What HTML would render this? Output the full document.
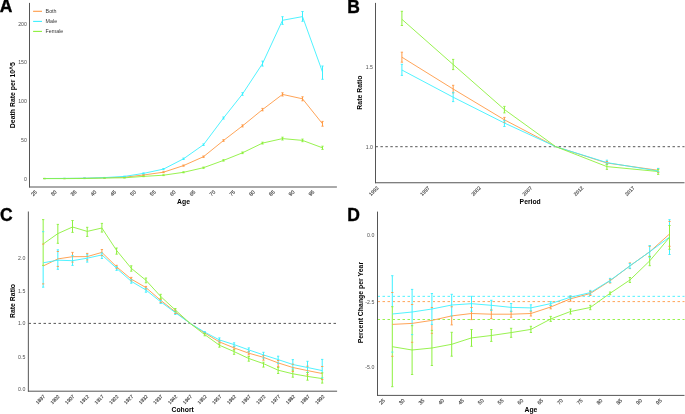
<!DOCTYPE html><html><head><meta charset="utf-8"><style>html,body{margin:0;padding:0;background:#fff;overflow:hidden}svg{display:block;will-change:transform}text{font-family:"Liberation Sans", sans-serif}</style></head><body>
<svg width="685" height="414" viewBox="0 0 685 414">
<rect width="685" height="414" fill="#fff"/>
<text x="-0.2" y="12.4" font-size="17.5" font-weight="bold" fill="#000" stroke="#000" stroke-width="0.35">A</text>
<line x1="33.1" y1="11.3" x2="42" y2="11.3" stroke="#FF9A45" stroke-width="1.1"/>
<text x="45.6" y="13.27" font-size="5.3" fill="#333">Both</text>
<line x1="33.1" y1="21.4" x2="42" y2="21.4" stroke="#3CF0FF" stroke-width="1.1"/>
<text x="45.6" y="23.37" font-size="5.3" fill="#333">Male</text>
<line x1="33.1" y1="31.4" x2="42" y2="31.4" stroke="#8CF03C" stroke-width="1.1"/>
<text x="45.6" y="33.37" font-size="5.3" fill="#333">Female</text>
<g><rect x="44" y="178.4" width="1" height="0.2" fill="#ff9a45"/><rect x="64" y="178.4" width="1" height="0.2" fill="#ff9a45"/><rect x="84" y="178.2" width="1" height="0.2" fill="#ff9a45"/><rect x="104" y="177.65" width="1" height="0.3" fill="#ff9a45"/><rect x="124" y="177" width="1" height="0.4" fill="#ff9a45"/><rect x="143" y="174.6" width="1" height="0.8" fill="#ff9a45"/><rect x="163" y="171.7" width="1" height="1" fill="#ff9a45"/><rect x="183" y="165" width="1" height="1.2" fill="#ff9a45"/><rect x="203" y="156" width="1" height="1.4" fill="#ff9a45"/><rect x="223" y="139.7" width="1" height="1.6" fill="#ff9a45"/><rect x="242" y="124.9" width="1" height="2" fill="#ff9a45"/><rect x="262" y="108.4" width="1" height="2.4" fill="#ff9a45"/><rect x="282" y="92.8" width="1" height="3.2" fill="#ff9a45"/><rect x="302" y="96.8" width="1" height="4" fill="#ff9a45"/><rect x="322" y="121.4" width="1" height="4.8" fill="#ff9a45"/></g>
<g><rect x="44" y="178.4" width="1" height="0.2" fill="#3cf0ff"/><rect x="64" y="178.3" width="1" height="0.2" fill="#3cf0ff"/><rect x="84" y="178.1" width="1" height="0.2" fill="#3cf0ff"/><rect x="104" y="177.45" width="1" height="0.3" fill="#3cf0ff"/><rect x="124" y="176.2" width="1" height="0.4" fill="#3cf0ff"/><rect x="143" y="172.9" width="1" height="1" fill="#3cf0ff"/><rect x="163" y="168.5" width="1" height="1.2" fill="#3cf0ff"/><rect x="183" y="158.1" width="1" height="1.4" fill="#3cf0ff"/><rect x="203" y="143.9" width="1" height="1.6" fill="#3cf0ff"/><rect x="223" y="117" width="1" height="2" fill="#3cf0ff"/><rect x="242" y="92.7" width="1" height="2.6" fill="#3cf0ff"/><rect x="262" y="61.1" width="1" height="5" fill="#3cf0ff"/><rect x="282" y="16.7" width="1" height="7.7" fill="#3cf0ff"/><rect x="302" y="11.5" width="1" height="9.8" fill="#3cf0ff"/><rect x="322" y="66" width="1" height="13.3" fill="#3cf0ff"/></g>
<g><rect x="44" y="178.5" width="1" height="0.2" fill="#8cf03c"/><rect x="64" y="178.5" width="1" height="0.2" fill="#8cf03c"/><rect x="84" y="178.4" width="1" height="0.2" fill="#8cf03c"/><rect x="104" y="177.85" width="1" height="0.3" fill="#8cf03c"/><rect x="124" y="177.6" width="1" height="0.4" fill="#8cf03c"/><rect x="143" y="176.1" width="1" height="0.6" fill="#8cf03c"/><rect x="163" y="174.8" width="1" height="0.8" fill="#8cf03c"/><rect x="183" y="171.8" width="1" height="1" fill="#8cf03c"/><rect x="203" y="167.1" width="1" height="1.2" fill="#8cf03c"/><rect x="223" y="159.7" width="1" height="1.4" fill="#8cf03c"/><rect x="242" y="152" width="1" height="1.6" fill="#8cf03c"/><rect x="262" y="142.2" width="1" height="1.8" fill="#8cf03c"/><rect x="282" y="137.2" width="1" height="2.8" fill="#8cf03c"/><rect x="302" y="139.1" width="1" height="2.6" fill="#8cf03c"/><rect x="322" y="146.2" width="1" height="3.2" fill="#8cf03c"/></g>
<polyline points="44.5,178.5 64.5,178.5 84.5,178.3 104.5,177.8 124.5,177.2 143.5,175 163.5,172.2 183.5,165.6 203.5,156.7 223.5,140.5 242.5,125.9 262.5,109.6 282.5,94.4 302.5,98.8 322.5,123.8" fill="none" stroke="#FF9A45" stroke-width="0.9" stroke-linejoin="round"/>
<polyline points="44.5,178.5 64.5,178.4 84.5,178.2 104.5,177.6 124.5,176.4 143.5,173.4 163.5,169.1 183.5,158.8 203.5,144.7 223.5,118 242.5,94 262.5,63.6 282.5,20.3 302.5,16.6 322.5,72" fill="none" stroke="#3CF0FF" stroke-width="0.9" stroke-linejoin="round"/>
<polyline points="44.5,178.6 64.5,178.6 84.5,178.5 104.5,178 124.5,177.8 143.5,176.4 163.5,175.2 183.5,172.3 203.5,167.7 223.5,160.4 242.5,152.8 262.5,143.1 282.5,138.6 302.5,140.4 322.5,147.8" fill="none" stroke="#8CF03C" stroke-width="0.9" stroke-linejoin="round"/>
<path d="M43.35 178.4H45.65M43.35 178.6H45.65M63.35 178.4H65.65M63.35 178.6H65.65M83.35 178.2H85.65M83.35 178.4H85.65M103.35 177.65H105.65M103.35 177.95H105.65M123.35 177H125.65M123.35 177.4H125.65M142.35 174.6H144.65M142.35 175.4H144.65M162.35 171.7H164.65M162.35 172.7H164.65M182.35 165H184.65M182.35 166.2H184.65M202.35 156H204.65M202.35 157.4H204.65M222.35 139.7H224.65M222.35 141.3H224.65M241.35 124.9H243.65M241.35 126.9H243.65M261.35 108.4H263.65M261.35 110.8H263.65M281.35 92.8H283.65M281.35 96H283.65M301.35 96.8H303.65M301.35 100.8H303.65M321.35 121.4H323.65M321.35 126.2H323.65" fill="none" stroke="#FF9A45" stroke-width="0.9"/>
<path d="M43.35 178.4H45.65M43.35 178.6H45.65M63.35 178.3H65.65M63.35 178.5H65.65M83.35 178.1H85.65M83.35 178.3H85.65M103.35 177.45H105.65M103.35 177.75H105.65M123.35 176.2H125.65M123.35 176.6H125.65M142.35 172.9H144.65M142.35 173.9H144.65M162.35 168.5H164.65M162.35 169.7H164.65M182.35 158.1H184.65M182.35 159.5H184.65M202.35 143.9H204.65M202.35 145.5H204.65M222.35 117H224.65M222.35 119H224.65M241.35 92.7H243.65M241.35 95.3H243.65M261.35 61.1H263.65M261.35 66.1H263.65M281.35 16.7H283.65M281.35 24.4H283.65M301.35 11.5H303.65M301.35 21.3H303.65M321.35 66H323.65M321.35 79.3H323.65" fill="none" stroke="#3CF0FF" stroke-width="0.9"/>
<path d="M43.35 178.5H45.65M43.35 178.7H45.65M63.35 178.5H65.65M63.35 178.7H65.65M83.35 178.4H85.65M83.35 178.6H85.65M103.35 177.85H105.65M103.35 178.15H105.65M123.35 177.6H125.65M123.35 178H125.65M142.35 176.1H144.65M142.35 176.7H144.65M162.35 174.8H164.65M162.35 175.6H164.65M182.35 171.8H184.65M182.35 172.8H184.65M202.35 167.1H204.65M202.35 168.3H204.65M222.35 159.7H224.65M222.35 161.1H224.65M241.35 152H243.65M241.35 153.6H243.65M261.35 142.2H263.65M261.35 144H263.65M281.35 137.2H283.65M281.35 140H283.65M301.35 139.1H303.65M301.35 141.7H303.65M321.35 146.2H323.65M321.35 149.4H323.65" fill="none" stroke="#8CF03C" stroke-width="0.9"/>
<line x1="43" y1="178.55" x2="45.5" y2="178.55" stroke="#8CF03C" stroke-width="0.9"/>
<line x1="29.5" y1="2.9" x2="29.5" y2="187.4" stroke="#555" stroke-width="1"/>
<line x1="29" y1="187" x2="336.9" y2="187" stroke="#555" stroke-width="1"/>
<text x="26.9" y="180.59" text-anchor="end" font-size="5.2" fill="#4D4D4D">0</text>
<text x="26.9" y="141.89" text-anchor="end" font-size="5.2" fill="#4D4D4D">50</text>
<text x="26.9" y="103.19" text-anchor="end" font-size="5.2" fill="#4D4D4D">100</text>
<text x="26.9" y="64.49" text-anchor="end" font-size="5.2" fill="#4D4D4D">150</text>
<text x="26.9" y="25.79" text-anchor="end" font-size="5.2" fill="#4D4D4D">200</text>
<text x="0" y="1.82" text-anchor="middle" font-size="5.3" fill="#333" stroke="#555" stroke-width="0.15" transform="translate(34 193.15) rotate(-45)">25</text>
<text x="0" y="1.82" text-anchor="middle" font-size="5.3" fill="#333" stroke="#555" stroke-width="0.15" transform="translate(53.82 193.15) rotate(-45)">30</text>
<text x="0" y="1.82" text-anchor="middle" font-size="5.3" fill="#333" stroke="#555" stroke-width="0.15" transform="translate(73.64 193.15) rotate(-45)">35</text>
<text x="0" y="1.82" text-anchor="middle" font-size="5.3" fill="#333" stroke="#555" stroke-width="0.15" transform="translate(93.46 193.15) rotate(-45)">40</text>
<text x="0" y="1.82" text-anchor="middle" font-size="5.3" fill="#333" stroke="#555" stroke-width="0.15" transform="translate(113.28 193.15) rotate(-45)">45</text>
<text x="0" y="1.82" text-anchor="middle" font-size="5.3" fill="#333" stroke="#555" stroke-width="0.15" transform="translate(133.1 193.15) rotate(-45)">50</text>
<text x="0" y="1.82" text-anchor="middle" font-size="5.3" fill="#333" stroke="#555" stroke-width="0.15" transform="translate(152.92 193.15) rotate(-45)">55</text>
<text x="0" y="1.82" text-anchor="middle" font-size="5.3" fill="#333" stroke="#555" stroke-width="0.15" transform="translate(172.74 193.15) rotate(-45)">60</text>
<text x="0" y="1.82" text-anchor="middle" font-size="5.3" fill="#333" stroke="#555" stroke-width="0.15" transform="translate(192.56 193.15) rotate(-45)">65</text>
<text x="0" y="1.82" text-anchor="middle" font-size="5.3" fill="#333" stroke="#555" stroke-width="0.15" transform="translate(212.38 193.15) rotate(-45)">70</text>
<text x="0" y="1.82" text-anchor="middle" font-size="5.3" fill="#333" stroke="#555" stroke-width="0.15" transform="translate(232.2 193.15) rotate(-45)">75</text>
<text x="0" y="1.82" text-anchor="middle" font-size="5.3" fill="#333" stroke="#555" stroke-width="0.15" transform="translate(252.02 193.15) rotate(-45)">80</text>
<text x="0" y="1.82" text-anchor="middle" font-size="5.3" fill="#333" stroke="#555" stroke-width="0.15" transform="translate(271.84 193.15) rotate(-45)">85</text>
<text x="0" y="1.82" text-anchor="middle" font-size="5.3" fill="#333" stroke="#555" stroke-width="0.15" transform="translate(291.66 193.15) rotate(-45)">90</text>
<text x="0" y="1.82" text-anchor="middle" font-size="5.3" fill="#333" stroke="#555" stroke-width="0.15" transform="translate(311.48 193.15) rotate(-45)">95</text>
<text x="183.5" y="203.8" text-anchor="middle" font-size="6.8" font-weight="bold" fill="#000">Age</text>
<text x="0" y="0" text-anchor="middle" font-size="6.9" font-weight="bold" fill="#000" transform="translate(15.1 95.1) rotate(-90)">Death Rate per 10^5</text>
<text x="347.3" y="12.5" font-size="17.5" font-weight="bold" fill="#000" stroke="#000" stroke-width="0.35">B</text>
<line x1="375.5" y1="146.7" x2="684.5" y2="146.7" stroke="#444" stroke-width="0.9" stroke-dasharray="2.45 2.5"/>
<g><rect x="401" y="52.2" width="1" height="10" fill="#ffc28f"/><rect x="402" y="52.2" width="1" height="10" fill="#ffd7b5"/><rect x="452" y="85.3" width="1" height="7.6" fill="#ffdcbe"/><rect x="453" y="85.3" width="1" height="7.6" fill="#ffbd86"/><rect x="503" y="117.4" width="1" height="4.8" fill="#fff5ec"/><rect x="504" y="117.4" width="1" height="4.8" fill="#ffa458"/><rect x="606" y="161.5" width="1" height="2.7" fill="#ffc28f"/><rect x="607" y="161.5" width="1" height="2.7" fill="#ffd7b5"/><rect x="657" y="168.4" width="1" height="4" fill="#ffdcbe"/><rect x="658" y="168.4" width="1" height="4" fill="#ffbd86"/></g>
<g><rect x="401" y="64.3" width="1" height="11.1" fill="#8af6ff"/><rect x="402" y="64.3" width="1" height="11.1" fill="#b1f9ff"/><rect x="452" y="92.4" width="1" height="9.2" fill="#bbfaff"/><rect x="453" y="92.4" width="1" height="9.2" fill="#80f5ff"/><rect x="503" y="120.4" width="1" height="6.1" fill="#ebfdff"/><rect x="504" y="120.4" width="1" height="6.1" fill="#50f2ff"/><rect x="606" y="160.2" width="1" height="4" fill="#8af6ff"/><rect x="607" y="160.2" width="1" height="4" fill="#b1f9ff"/><rect x="657" y="168.5" width="1" height="3.2" fill="#bbfaff"/><rect x="658" y="168.5" width="1" height="3.2" fill="#80f5ff"/></g>
<g><rect x="401" y="11.3" width="1" height="14.2" fill="#baf68a"/><rect x="402" y="11.3" width="1" height="14.2" fill="#d1f9b1"/><rect x="452" y="59.4" width="1" height="10.2" fill="#d7fabb"/><rect x="453" y="59.4" width="1" height="10.2" fill="#b4f580"/><rect x="503" y="106.4" width="1" height="6.5" fill="#f3fdeb"/><rect x="504" y="106.4" width="1" height="6.5" fill="#98f250"/><rect x="606" y="164.2" width="1" height="5.2" fill="#baf68a"/><rect x="607" y="164.2" width="1" height="5.2" fill="#d1f9b1"/><rect x="657" y="169.5" width="1" height="4.9" fill="#d7fabb"/><rect x="658" y="169.5" width="1" height="4.9" fill="#b4f580"/></g>
<polyline points="401.9,57.2 453.15,89 504.4,119.8 555.65,146.6 606.9,163 658.15,170.3" fill="none" stroke="#FF9A45" stroke-width="0.9" stroke-linejoin="round"/>
<polyline points="401.9,70 453.15,97.2 504.4,123 555.65,146.6 606.9,162.6 658.15,171" fill="none" stroke="#3CF0FF" stroke-width="0.9" stroke-linejoin="round"/>
<polyline points="401.9,19.3 453.15,64.5 504.4,109.5 555.65,146.6 606.9,166.6 658.15,171.5" fill="none" stroke="#8CF03C" stroke-width="0.9" stroke-linejoin="round"/>
<path d="M400.75 52.2H403.05M400.75 62.2H403.05M452 85.3H454.3M452 92.9H454.3M503.25 117.4H505.55M503.25 122.2H505.55M605.75 161.5H608.05M605.75 164.2H608.05M657 168.4H659.3M657 172.4H659.3" fill="none" stroke="#FF9A45" stroke-width="0.9"/>
<path d="M400.75 64.3H403.05M400.75 75.4H403.05M452 92.4H454.3M452 101.6H454.3M503.25 120.4H505.55M503.25 126.5H505.55M605.75 160.2H608.05M605.75 164.2H608.05M657 168.5H659.3M657 171.7H659.3" fill="none" stroke="#3CF0FF" stroke-width="0.9"/>
<path d="M400.75 11.3H403.05M400.75 25.5H403.05M452 59.4H454.3M452 69.6H454.3M503.25 106.4H505.55M503.25 112.9H505.55M605.75 164.2H608.05M605.75 169.4H608.05M657 169.5H659.3M657 174.4H659.3" fill="none" stroke="#8CF03C" stroke-width="0.9"/>
<line x1="375.5" y1="2.9" x2="375.5" y2="183.2" stroke="#555" stroke-width="1"/>
<line x1="375" y1="182.75" x2="684.5" y2="182.75" stroke="#555" stroke-width="1"/>
<text x="373" y="148.69" text-anchor="end" font-size="5.2" fill="#4D4D4D">1.0</text>
<text x="373" y="68.99" text-anchor="end" font-size="5.2" fill="#4D4D4D">1.5</text>
<text x="0" y="1.72" text-anchor="middle" font-size="5.0" fill="#333" stroke="#555" stroke-width="0.15" transform="translate(373.7 191) rotate(-45)">1992</text>
<text x="0" y="1.72" text-anchor="middle" font-size="5.0" fill="#333" stroke="#555" stroke-width="0.15" transform="translate(424.9 191) rotate(-45)">1997</text>
<text x="0" y="1.72" text-anchor="middle" font-size="5.0" fill="#333" stroke="#555" stroke-width="0.15" transform="translate(476.1 191) rotate(-45)">2002</text>
<text x="0" y="1.72" text-anchor="middle" font-size="5.0" fill="#333" stroke="#555" stroke-width="0.15" transform="translate(527.3 191) rotate(-45)">2007</text>
<text x="0" y="1.72" text-anchor="middle" font-size="5.0" fill="#333" stroke="#555" stroke-width="0.15" transform="translate(578.5 191) rotate(-45)">2012</text>
<text x="0" y="1.72" text-anchor="middle" font-size="5.0" fill="#333" stroke="#555" stroke-width="0.15" transform="translate(629.7 191) rotate(-45)">2017</text>
<text x="530.2" y="203.6" text-anchor="middle" font-size="6.8" font-weight="bold" fill="#000">Period</text>
<text x="0" y="0" text-anchor="middle" font-size="6.9" font-weight="bold" fill="#000" transform="translate(362.2 92.6) rotate(-90)">Rate Ratio</text>
<text x="0" y="221.3" font-size="17.5" font-weight="bold" fill="#000" stroke="#000" stroke-width="0.35">C</text>
<line x1="28.5" y1="323.4" x2="337.1" y2="323.4" stroke="#444" stroke-width="0.9" stroke-dasharray="2.5 2.5"/>
<g><rect x="42" y="244.1" width="1" height="39.8" fill="#ffdcbe"/><rect x="43" y="244.1" width="1" height="39.8" fill="#ffbd86"/><rect x="57" y="251.5" width="1" height="14.9" fill="#ffbc84"/><rect x="58" y="251.5" width="1" height="14.9" fill="#ffddc0"/><rect x="72" y="252.4" width="1" height="9.7" fill="#ff9c49"/><rect x="86" y="253.4" width="1" height="6.5" fill="#ffe2c9"/><rect x="87" y="253.4" width="1" height="6.5" fill="#ffb77b"/><rect x="101" y="249.5" width="1" height="6.1" fill="#ffc28f"/><rect x="102" y="249.5" width="1" height="6.1" fill="#ffd7b5"/><rect x="116" y="265.3" width="1" height="3" fill="#ffa355"/><rect x="117" y="265.3" width="1" height="3" fill="#fff6ef"/><rect x="130" y="277.4" width="1" height="3.4" fill="#ffe8d5"/><rect x="131" y="277.4" width="1" height="3.4" fill="#ffb16f"/><rect x="145" y="286.4" width="1" height="2.6" fill="#ffc89a"/><rect x="146" y="286.4" width="1" height="2.6" fill="#ffd1aa"/><rect x="160" y="299.3" width="1" height="3.1" fill="#ffa960"/><rect x="161" y="299.3" width="1" height="3.1" fill="#fff0e4"/><rect x="174" y="310.2" width="1" height="3.3" fill="#ffeee0"/><rect x="175" y="310.2" width="1" height="3.3" fill="#ffab64"/><rect x="204" y="332.4" width="1" height="1.2" fill="#ffaf6c"/><rect x="205" y="332.4" width="1" height="1.2" fill="#ffead8"/><rect x="218" y="340.9" width="1" height="2" fill="#fff4eb"/><rect x="219" y="340.9" width="1" height="2" fill="#ffa559"/><rect x="233" y="346.4" width="1" height="3" fill="#ffd5b1"/><rect x="234" y="346.4" width="1" height="3" fill="#ffc493"/><rect x="248" y="351.5" width="1" height="3.4" fill="#ffb577"/><rect x="249" y="351.5" width="1" height="3.4" fill="#ffe4cd"/><rect x="263" y="355.6" width="1" height="4.6" fill="#ff9f4d"/><rect x="277" y="360.5" width="1" height="6.1" fill="#ffdbbc"/><rect x="278" y="360.5" width="1" height="6.1" fill="#ffbe88"/><rect x="292" y="364.2" width="1" height="7.3" fill="#ffbb82"/><rect x="293" y="364.2" width="1" height="7.3" fill="#ffdec2"/><rect x="307" y="366.2" width="1" height="8.6" fill="#ff9c48"/><rect x="321" y="366.5" width="1" height="13" fill="#ffe1c8"/><rect x="322" y="366.5" width="1" height="13" fill="#ffb87c"/></g>
<g><rect x="42" y="231.7" width="1" height="55.5" fill="#bbfaff"/><rect x="43" y="231.7" width="1" height="55.5" fill="#80f5ff"/><rect x="57" y="249.8" width="1" height="19.5" fill="#7ef5ff"/><rect x="58" y="249.8" width="1" height="19.5" fill="#bdfaff"/><rect x="72" y="255.6" width="1" height="9.8" fill="#41f0ff"/><rect x="86" y="254.9" width="1" height="7.2" fill="#c7fbff"/><rect x="87" y="254.9" width="1" height="7.2" fill="#74f4ff"/><rect x="101" y="253" width="1" height="5.5" fill="#8af6ff"/><rect x="102" y="253" width="1" height="5.5" fill="#b1f9ff"/><rect x="116" y="266.5" width="1" height="3.9" fill="#4df1ff"/><rect x="117" y="266.5" width="1" height="3.9" fill="#eefeff"/><rect x="130" y="279.8" width="1" height="3.4" fill="#d3fcff"/><rect x="131" y="279.8" width="1" height="3.4" fill="#68f3ff"/><rect x="145" y="288.4" width="1" height="3.8" fill="#96f7ff"/><rect x="146" y="288.4" width="1" height="3.8" fill="#a5f8ff"/><rect x="160" y="300.4" width="1" height="3.1" fill="#58f2ff"/><rect x="161" y="300.4" width="1" height="3.1" fill="#e3fdff"/><rect x="174" y="311.3" width="1" height="3.2" fill="#defcff"/><rect x="175" y="311.3" width="1" height="3.2" fill="#5df3ff"/><rect x="204" y="331.6" width="1" height="1.2" fill="#64f3ff"/><rect x="205" y="331.6" width="1" height="1.2" fill="#d7fcff"/><rect x="218" y="337.9" width="1" height="3.3" fill="#eafdff"/><rect x="219" y="337.9" width="1" height="3.3" fill="#51f2ff"/><rect x="233" y="342.8" width="1" height="3.8" fill="#adf9ff"/><rect x="234" y="342.8" width="1" height="3.8" fill="#8ef6ff"/><rect x="248" y="347.9" width="1" height="4" fill="#70f4ff"/><rect x="249" y="347.9" width="1" height="4" fill="#cbfbff"/><rect x="263" y="352.3" width="1" height="5.9" fill="#45f1ff"/><rect x="277" y="356.2" width="1" height="7.4" fill="#b9faff"/><rect x="278" y="356.2" width="1" height="7.4" fill="#82f5ff"/><rect x="292" y="359.6" width="1" height="9.3" fill="#7cf5ff"/><rect x="293" y="359.6" width="1" height="9.3" fill="#bffaff"/><rect x="307" y="361.3" width="1" height="11.2" fill="#3ff0ff"/><rect x="321" y="359.4" width="1" height="18.4" fill="#c5fbff"/><rect x="322" y="359.4" width="1" height="18.4" fill="#76f4ff"/></g>
<g><rect x="42" y="219.6" width="1" height="45.8" fill="#d7fabb"/><rect x="43" y="219.6" width="1" height="45.8" fill="#b4f580"/><rect x="57" y="224.4" width="1" height="18.9" fill="#b3f57e"/><rect x="58" y="224.4" width="1" height="18.9" fill="#d8fabd"/><rect x="72" y="220.5" width="1" height="11.9" fill="#8ff041"/><rect x="86" y="227.3" width="1" height="9.1" fill="#defbc7"/><rect x="87" y="227.3" width="1" height="9.1" fill="#adf474"/><rect x="101" y="223.4" width="1" height="8.7" fill="#baf68a"/><rect x="102" y="223.4" width="1" height="8.7" fill="#d1f9b1"/><rect x="116" y="248" width="1" height="6.2" fill="#96f14d"/><rect x="117" y="248" width="1" height="6.2" fill="#f5feee"/><rect x="130" y="265.8" width="1" height="5.4" fill="#e5fcd3"/><rect x="131" y="265.8" width="1" height="5.4" fill="#a6f368"/><rect x="145" y="278" width="1" height="4.8" fill="#c1f796"/><rect x="146" y="278" width="1" height="4.8" fill="#caf8a5"/><rect x="160" y="294.3" width="1" height="4.4" fill="#9df258"/><rect x="161" y="294.3" width="1" height="4.4" fill="#eefde3"/><rect x="174" y="308.5" width="1" height="3.1" fill="#ecfcde"/><rect x="175" y="308.5" width="1" height="3.1" fill="#9ff35d"/><rect x="204" y="333.5" width="1" height="2.3" fill="#a4f364"/><rect x="205" y="333.5" width="1" height="2.3" fill="#e7fcd7"/><rect x="218" y="343.9" width="1" height="3.3" fill="#f3fdea"/><rect x="219" y="343.9" width="1" height="3.3" fill="#98f251"/><rect x="233" y="349.9" width="1" height="4.4" fill="#cff9ad"/><rect x="234" y="349.9" width="1" height="4.4" fill="#bcf68e"/><rect x="248" y="356.5" width="1" height="4.7" fill="#abf470"/><rect x="249" y="356.5" width="1" height="4.7" fill="#e0fbcb"/><rect x="263" y="362.2" width="1" height="4.9" fill="#91f145"/><rect x="277" y="367.5" width="1" height="6" fill="#d6fab9"/><rect x="278" y="367.5" width="1" height="6" fill="#b5f582"/><rect x="292" y="370.2" width="1" height="7" fill="#b2f57c"/><rect x="293" y="370.2" width="1" height="7" fill="#d9fabf"/><rect x="307" y="372.5" width="1" height="7.7" fill="#8ef03f"/><rect x="321" y="372.8" width="1" height="10.3" fill="#ddfbc5"/><rect x="322" y="372.8" width="1" height="10.3" fill="#aef476"/></g>
<polyline points="43.15,266 57.84,258.9 72.52,256.7 87.21,256.6 101.9,252.4 116.59,266.8 131.27,279.1 145.96,287.6 160.65,300.3 175.33,311.8 190.02,323.3 204.71,333 219.39,341.9 234.08,347.9 248.77,353.2 263.45,357.3 278.14,362.9 292.83,367.5 307.52,370.6 322.2,373.5" fill="none" stroke="#FF9A45" stroke-width="0.9" stroke-linejoin="round"/>
<polyline points="43.15,262.8 57.84,260.2 72.52,260.7 87.21,258.2 101.9,254.9 116.59,268.3 131.27,281.3 145.96,290 160.65,301.8 175.33,312.6 190.02,323.3 204.71,332.2 219.39,339.9 234.08,344.6 248.77,349.9 263.45,354.9 278.14,359.6 292.83,364.5 307.52,367.5 322.2,370.6" fill="none" stroke="#3CF0FF" stroke-width="0.9" stroke-linejoin="round"/>
<polyline points="43.15,244 57.84,233.6 72.52,227 87.21,231.4 101.9,228 116.59,250.4 131.27,268.3 145.96,280.3 160.65,296.4 175.33,310 190.02,323.3 204.71,334.6 219.39,345.2 234.08,351.6 248.77,358.5 263.45,363.6 278.14,370.2 292.83,373.8 307.52,376.4 322.2,378.6" fill="none" stroke="#8CF03C" stroke-width="0.9" stroke-linejoin="round"/>
<path d="M42 244.1H44.3M42 283.9H44.3M56.69 251.5H58.99M56.69 266.4H58.99M71.37 252.4H73.67M71.37 262.1H73.67M86.06 253.4H88.36M86.06 259.9H88.36M100.75 249.5H103.05M100.75 255.6H103.05M115.44 265.3H117.74M115.44 268.3H117.74M130.12 277.4H132.42M130.12 280.8H132.42M144.81 286.4H147.11M144.81 289H147.11M159.5 299.3H161.8M159.5 302.4H161.8M174.18 310.2H176.48M174.18 313.5H176.48M203.56 332.4H205.86M203.56 333.6H205.86M218.24 340.9H220.54M218.24 342.9H220.54M232.93 346.4H235.23M232.93 349.4H235.23M247.62 351.5H249.92M247.62 354.9H249.92M262.31 355.6H264.6M262.31 360.2H264.6M276.99 360.5H279.29M276.99 366.6H279.29M291.68 364.2H293.98M291.68 371.5H293.98M306.37 366.2H308.67M306.37 374.8H308.67M321.05 366.5H323.35M321.05 379.5H323.35" fill="none" stroke="#FF9A45" stroke-width="0.9"/>
<path d="M42 231.7H44.3M42 287.2H44.3M56.69 249.8H58.99M56.69 269.3H58.99M71.37 255.6H73.67M71.37 265.4H73.67M86.06 254.9H88.36M86.06 262.1H88.36M100.75 253H103.05M100.75 258.5H103.05M115.44 266.5H117.74M115.44 270.4H117.74M130.12 279.8H132.42M130.12 283.2H132.42M144.81 288.4H147.11M144.81 292.2H147.11M159.5 300.4H161.8M159.5 303.5H161.8M174.18 311.3H176.48M174.18 314.5H176.48M203.56 331.6H205.86M203.56 332.8H205.86M218.24 337.9H220.54M218.24 341.2H220.54M232.93 342.8H235.23M232.93 346.6H235.23M247.62 347.9H249.92M247.62 351.9H249.92M262.31 352.3H264.6M262.31 358.2H264.6M276.99 356.2H279.29M276.99 363.6H279.29M291.68 359.6H293.98M291.68 368.9H293.98M306.37 361.3H308.67M306.37 372.5H308.67M321.05 359.4H323.35M321.05 377.8H323.35" fill="none" stroke="#3CF0FF" stroke-width="0.9"/>
<path d="M42 219.6H44.3M42 265.4H44.3M56.69 224.4H58.99M56.69 243.3H58.99M71.37 220.5H73.67M71.37 232.4H73.67M86.06 227.3H88.36M86.06 236.4H88.36M100.75 223.4H103.05M100.75 232.1H103.05M115.44 248H117.74M115.44 254.2H117.74M130.12 265.8H132.42M130.12 271.2H132.42M144.81 278H147.11M144.81 282.8H147.11M159.5 294.3H161.8M159.5 298.7H161.8M174.18 308.5H176.48M174.18 311.6H176.48M203.56 333.5H205.86M203.56 335.8H205.86M218.24 343.9H220.54M218.24 347.2H220.54M232.93 349.9H235.23M232.93 354.3H235.23M247.62 356.5H249.92M247.62 361.2H249.92M262.31 362.2H264.6M262.31 367.1H264.6M276.99 367.5H279.29M276.99 373.5H279.29M291.68 370.2H293.98M291.68 377.2H293.98M306.37 372.5H308.67M306.37 380.2H308.67M321.05 372.8H323.35M321.05 383.1H323.35" fill="none" stroke="#8CF03C" stroke-width="0.9"/>
<line x1="28.35" y1="211.5" x2="28.35" y2="391.7" stroke="#555" stroke-width="1"/>
<line x1="28" y1="391.2" x2="337.1" y2="391.2" stroke="#555" stroke-width="1"/>
<text x="25.3" y="390.99" text-anchor="end" font-size="5.2" fill="#4D4D4D">0.0</text>
<text x="25.3" y="358.59" text-anchor="end" font-size="5.2" fill="#4D4D4D">0.5</text>
<text x="25.3" y="325.39" text-anchor="end" font-size="5.2" fill="#4D4D4D">1.0</text>
<text x="25.3" y="292.89" text-anchor="end" font-size="5.2" fill="#4D4D4D">1.5</text>
<text x="25.3" y="259.99" text-anchor="end" font-size="5.2" fill="#4D4D4D">2.0</text>
<text x="0" y="1.67" text-anchor="middle" font-size="4.85" fill="#333" stroke="#555" stroke-width="0.15" transform="translate(40.3 399.5) rotate(-45)">1897</text>
<text x="0" y="1.67" text-anchor="middle" font-size="4.85" fill="#333" stroke="#555" stroke-width="0.15" transform="translate(55.01 399.5) rotate(-45)">1902</text>
<text x="0" y="1.67" text-anchor="middle" font-size="4.85" fill="#333" stroke="#555" stroke-width="0.15" transform="translate(69.72 399.5) rotate(-45)">1907</text>
<text x="0" y="1.67" text-anchor="middle" font-size="4.85" fill="#333" stroke="#555" stroke-width="0.15" transform="translate(84.43 399.5) rotate(-45)">1912</text>
<text x="0" y="1.67" text-anchor="middle" font-size="4.85" fill="#333" stroke="#555" stroke-width="0.15" transform="translate(99.14 399.5) rotate(-45)">1917</text>
<text x="0" y="1.67" text-anchor="middle" font-size="4.85" fill="#333" stroke="#555" stroke-width="0.15" transform="translate(113.85 399.5) rotate(-45)">1922</text>
<text x="0" y="1.67" text-anchor="middle" font-size="4.85" fill="#333" stroke="#555" stroke-width="0.15" transform="translate(128.56 399.5) rotate(-45)">1927</text>
<text x="0" y="1.67" text-anchor="middle" font-size="4.85" fill="#333" stroke="#555" stroke-width="0.15" transform="translate(143.27 399.5) rotate(-45)">1932</text>
<text x="0" y="1.67" text-anchor="middle" font-size="4.85" fill="#333" stroke="#555" stroke-width="0.15" transform="translate(157.98 399.5) rotate(-45)">1937</text>
<text x="0" y="1.67" text-anchor="middle" font-size="4.85" fill="#333" stroke="#555" stroke-width="0.15" transform="translate(172.69 399.5) rotate(-45)">1942</text>
<text x="0" y="1.67" text-anchor="middle" font-size="4.85" fill="#333" stroke="#555" stroke-width="0.15" transform="translate(187.4 399.5) rotate(-45)">1947</text>
<text x="0" y="1.67" text-anchor="middle" font-size="4.85" fill="#333" stroke="#555" stroke-width="0.15" transform="translate(202.11 399.5) rotate(-45)">1952</text>
<text x="0" y="1.67" text-anchor="middle" font-size="4.85" fill="#333" stroke="#555" stroke-width="0.15" transform="translate(216.82 399.5) rotate(-45)">1957</text>
<text x="0" y="1.67" text-anchor="middle" font-size="4.85" fill="#333" stroke="#555" stroke-width="0.15" transform="translate(231.53 399.5) rotate(-45)">1962</text>
<text x="0" y="1.67" text-anchor="middle" font-size="4.85" fill="#333" stroke="#555" stroke-width="0.15" transform="translate(246.24 399.5) rotate(-45)">1967</text>
<text x="0" y="1.67" text-anchor="middle" font-size="4.85" fill="#333" stroke="#555" stroke-width="0.15" transform="translate(260.95 399.5) rotate(-45)">1972</text>
<text x="0" y="1.67" text-anchor="middle" font-size="4.85" fill="#333" stroke="#555" stroke-width="0.15" transform="translate(275.66 399.5) rotate(-45)">1977</text>
<text x="0" y="1.67" text-anchor="middle" font-size="4.85" fill="#333" stroke="#555" stroke-width="0.15" transform="translate(290.37 399.5) rotate(-45)">1982</text>
<text x="0" y="1.67" text-anchor="middle" font-size="4.85" fill="#333" stroke="#555" stroke-width="0.15" transform="translate(305.08 399.5) rotate(-45)">1987</text>
<text x="0" y="1.67" text-anchor="middle" font-size="4.85" fill="#333" stroke="#555" stroke-width="0.15" transform="translate(319.79 399.5) rotate(-45)">1992</text>
<text x="182.7" y="411.9" text-anchor="middle" font-size="6.8" font-weight="bold" fill="#000">Cohort</text>
<text x="0" y="0" text-anchor="middle" font-size="6.9" font-weight="bold" fill="#000" transform="translate(15.2 301) rotate(-90)">Rate Ratio</text>
<text x="347.2" y="221" font-size="17.5" font-weight="bold" fill="#000" stroke="#000" stroke-width="0.35">D</text>
<line x1="377.5" y1="296.35" x2="684.5" y2="296.35" stroke="#3CF0FF" stroke-width="0.9" stroke-dasharray="2.5 2.5"/>
<line x1="377.5" y1="301.6" x2="684.5" y2="301.6" stroke="#FF9A45" stroke-width="0.9" stroke-dasharray="2.5 2.5"/>
<line x1="377.5" y1="319.5" x2="684.5" y2="319.5" stroke="#8CF03C" stroke-width="0.9" stroke-dasharray="2.5 2.5"/>
<g><rect x="391" y="292.5" width="1" height="63.8" fill="#ffebda"/><rect x="392" y="292.5" width="1" height="63.8" fill="#ffae6a"/><rect x="411" y="304.5" width="1" height="37.8" fill="#ffd7b5"/><rect x="412" y="304.5" width="1" height="37.8" fill="#ffc28f"/><rect x="431" y="307.5" width="1" height="25.8" fill="#ffc28f"/><rect x="432" y="307.5" width="1" height="25.8" fill="#ffd7b5"/><rect x="451" y="306.8" width="1" height="18.1" fill="#ffae6a"/><rect x="452" y="306.8" width="1" height="18.1" fill="#ffebda"/><rect x="471" y="307.5" width="1" height="12.1" fill="#ff9a45"/><rect x="490" y="309.9" width="1" height="8.7" fill="#ffebda"/><rect x="491" y="309.9" width="1" height="8.7" fill="#ffae6a"/><rect x="510" y="311.3" width="1" height="6" fill="#ffd7b5"/><rect x="511" y="311.3" width="1" height="6" fill="#ffc28f"/><rect x="530" y="311.2" width="1" height="4.8" fill="#ffc28f"/><rect x="531" y="311.2" width="1" height="4.8" fill="#ffd7b5"/><rect x="550" y="305.3" width="1" height="3.5" fill="#ffae6a"/><rect x="551" y="305.3" width="1" height="3.5" fill="#ffebda"/><rect x="570" y="296.6" width="1" height="4.6" fill="#ff9a45"/><rect x="589" y="291.6" width="1" height="3.9" fill="#ffebda"/><rect x="590" y="291.6" width="1" height="3.9" fill="#ffae6a"/><rect x="609" y="279.2" width="1" height="3.8" fill="#ffd7b5"/><rect x="610" y="279.2" width="1" height="3.8" fill="#ffc28f"/><rect x="629" y="262.9" width="1" height="5.7" fill="#ffc28f"/><rect x="630" y="262.9" width="1" height="5.7" fill="#ffd7b5"/><rect x="649" y="246.3" width="1" height="10.1" fill="#ffae6a"/><rect x="650" y="246.3" width="1" height="10.1" fill="#ffebda"/><rect x="669" y="221.5" width="1" height="24.8" fill="#ff9a45"/></g>
<g><rect x="391" y="275.7" width="1" height="76.4" fill="#d8fcff"/><rect x="392" y="275.7" width="1" height="76.4" fill="#63f3ff"/><rect x="411" y="289.4" width="1" height="45.2" fill="#b1f9ff"/><rect x="412" y="289.4" width="1" height="45.2" fill="#8af6ff"/><rect x="431" y="293.5" width="1" height="30.9" fill="#8af6ff"/><rect x="432" y="293.5" width="1" height="30.9" fill="#b1f9ff"/><rect x="451" y="294.3" width="1" height="21.6" fill="#63f3ff"/><rect x="452" y="294.3" width="1" height="21.6" fill="#d8fcff"/><rect x="471" y="296.3" width="1" height="14.9" fill="#3cf0ff"/><rect x="490" y="300.3" width="1" height="10" fill="#d8fcff"/><rect x="491" y="300.3" width="1" height="10" fill="#63f3ff"/><rect x="510" y="303.5" width="1" height="7.8" fill="#b1f9ff"/><rect x="511" y="303.5" width="1" height="7.8" fill="#8af6ff"/><rect x="530" y="304.8" width="1" height="6" fill="#8af6ff"/><rect x="531" y="304.8" width="1" height="6" fill="#b1f9ff"/><rect x="550" y="301.6" width="1" height="3.9" fill="#63f3ff"/><rect x="551" y="301.6" width="1" height="3.9" fill="#d8fcff"/><rect x="570" y="295.7" width="1" height="3.1" fill="#3cf0ff"/><rect x="589" y="290.4" width="1" height="4.1" fill="#d8fcff"/><rect x="590" y="290.4" width="1" height="4.1" fill="#63f3ff"/><rect x="609" y="278.4" width="1" height="4" fill="#b1f9ff"/><rect x="610" y="278.4" width="1" height="4" fill="#8af6ff"/><rect x="629" y="263.5" width="1" height="4.9" fill="#8af6ff"/><rect x="630" y="263.5" width="1" height="4.9" fill="#b1f9ff"/><rect x="649" y="245.5" width="1" height="11.9" fill="#63f3ff"/><rect x="650" y="245.5" width="1" height="11.9" fill="#d8fcff"/><rect x="669" y="219.7" width="1" height="34.8" fill="#3cf0ff"/></g>
<g><rect x="391" y="306.7" width="1" height="80" fill="#e8fcd8"/><rect x="392" y="306.7" width="1" height="80" fill="#a3f363"/><rect x="411" y="325.7" width="1" height="48.8" fill="#d1f9b1"/><rect x="412" y="325.7" width="1" height="48.8" fill="#baf68a"/><rect x="431" y="330.4" width="1" height="35.1" fill="#baf68a"/><rect x="432" y="330.4" width="1" height="35.1" fill="#d1f9b1"/><rect x="451" y="332.3" width="1" height="23.9" fill="#a3f363"/><rect x="452" y="332.3" width="1" height="23.9" fill="#e8fcd8"/><rect x="471" y="329.5" width="1" height="16.8" fill="#8cf03c"/><rect x="490" y="329.5" width="1" height="11.9" fill="#e8fcd8"/><rect x="491" y="329.5" width="1" height="11.9" fill="#a3f363"/><rect x="510" y="328.3" width="1" height="9" fill="#d1f9b1"/><rect x="511" y="328.3" width="1" height="9" fill="#baf68a"/><rect x="530" y="326.3" width="1" height="6.2" fill="#baf68a"/><rect x="531" y="326.3" width="1" height="6.2" fill="#d1f9b1"/><rect x="550" y="316.4" width="1" height="5" fill="#a3f363"/><rect x="551" y="316.4" width="1" height="5" fill="#e8fcd8"/><rect x="570" y="309" width="1" height="5" fill="#8cf03c"/><rect x="589" y="305.3" width="1" height="4.4" fill="#e8fcd8"/><rect x="590" y="305.3" width="1" height="4.4" fill="#a3f363"/><rect x="609" y="292" width="1" height="2.7" fill="#d1f9b1"/><rect x="610" y="292" width="1" height="2.7" fill="#baf68a"/><rect x="629" y="277.5" width="1" height="5" fill="#baf68a"/><rect x="630" y="277.5" width="1" height="5" fill="#d1f9b1"/><rect x="649" y="256.4" width="1" height="9.3" fill="#a3f363"/><rect x="650" y="256.4" width="1" height="9.3" fill="#e8fcd8"/><rect x="669" y="225.5" width="1" height="23.8" fill="#8cf03c"/></g>
<polyline points="392.3,324.4 412.1,323.4 431.9,320.4 451.7,315.9 471.5,313.5 491.3,314.2 511.1,314.2 530.9,313.5 550.7,307 570.5,298.8 590.3,293.5 610.1,280.8 629.9,265.9 649.7,251.8 669.5,234" fill="none" stroke="#FF9A45" stroke-width="0.9" stroke-linejoin="round"/>
<polyline points="392.3,314 412.1,312 431.9,309 451.7,305 471.5,303.7 491.3,305.3 511.1,307.4 530.9,307.9 550.7,303.6 570.5,297.2 590.3,292.6 610.1,280.4 629.9,265.9 649.7,251.8 669.5,237.1" fill="none" stroke="#3CF0FF" stroke-width="0.9" stroke-linejoin="round"/>
<polyline points="392.3,346.7 412.1,350 431.9,348 451.7,344.3 471.5,337.9 491.3,335.5 511.1,332.6 530.9,329.4 550.7,319 570.5,311.5 590.3,307.5 610.1,293.3 629.9,280 649.7,260.9 669.5,237.4" fill="none" stroke="#8CF03C" stroke-width="0.9" stroke-linejoin="round"/>
<path d="M391.15 292.5H393.45M391.15 356.3H393.45M410.95 304.5H413.25M410.95 342.3H413.25M430.75 307.5H433.05M430.75 333.3H433.05M450.55 306.8H452.85M450.55 324.9H452.85M470.35 307.5H472.65M470.35 319.6H472.65M490.15 309.9H492.45M490.15 318.6H492.45M509.95 311.3H512.25M509.95 317.3H512.25M529.75 311.2H532.05M529.75 316H532.05M549.55 305.3H551.85M549.55 308.8H551.85M569.35 296.6H571.65M569.35 301.2H571.65M589.15 291.6H591.45M589.15 295.5H591.45M608.95 279.2H611.25M608.95 283H611.25M628.75 262.9H631.05M628.75 268.6H631.05M648.55 246.3H650.85M648.55 256.4H650.85M668.35 221.5H670.65M668.35 246.3H670.65" fill="none" stroke="#FF9A45" stroke-width="0.9"/>
<path d="M391.15 275.7H393.45M391.15 352.1H393.45M410.95 289.4H413.25M410.95 334.6H413.25M430.75 293.5H433.05M430.75 324.4H433.05M450.55 294.3H452.85M450.55 315.9H452.85M470.35 296.3H472.65M470.35 311.2H472.65M490.15 300.3H492.45M490.15 310.3H492.45M509.95 303.5H512.25M509.95 311.3H512.25M529.75 304.8H532.05M529.75 310.8H532.05M549.55 301.6H551.85M549.55 305.5H551.85M569.35 295.7H571.65M569.35 298.8H571.65M589.15 290.4H591.45M589.15 294.5H591.45M608.95 278.4H611.25M608.95 282.4H611.25M628.75 263.5H631.05M628.75 268.4H631.05M648.55 245.5H650.85M648.55 257.4H650.85M668.35 219.7H670.65M668.35 254.5H670.65" fill="none" stroke="#3CF0FF" stroke-width="0.9"/>
<path d="M391.15 306.7H393.45M391.15 386.7H393.45M410.95 325.7H413.25M410.95 374.5H413.25M430.75 330.4H433.05M430.75 365.5H433.05M450.55 332.3H452.85M450.55 356.2H452.85M470.35 329.5H472.65M470.35 346.3H472.65M490.15 329.5H492.45M490.15 341.4H492.45M509.95 328.3H512.25M509.95 337.3H512.25M529.75 326.3H532.05M529.75 332.5H532.05M549.55 316.4H551.85M549.55 321.4H551.85M569.35 309H571.65M569.35 314H571.65M589.15 305.3H591.45M589.15 309.7H591.45M608.95 292H611.25M608.95 294.7H611.25M628.75 277.5H631.05M628.75 282.5H631.05M648.55 256.4H650.85M648.55 265.7H650.85M668.35 225.5H670.65M668.35 249.3H670.65" fill="none" stroke="#8CF03C" stroke-width="0.9"/>
<line x1="377.5" y1="211.6" x2="377.5" y2="395.9" stroke="#555" stroke-width="1"/>
<line x1="377" y1="395.4" x2="684.5" y2="395.4" stroke="#555" stroke-width="1"/>
<text x="374.3" y="237.19" text-anchor="end" font-size="5.2" fill="#4D4D4D">0.0</text>
<text x="374.3" y="303.89" text-anchor="end" font-size="5.2" fill="#4D4D4D">-2.5</text>
<text x="374.3" y="369.29" text-anchor="end" font-size="5.2" fill="#4D4D4D">-5.0</text>
<text x="0" y="1.82" text-anchor="middle" font-size="5.3" fill="#333" stroke="#555" stroke-width="0.15" transform="translate(381.95 401.6) rotate(-45)">25</text>
<text x="0" y="1.82" text-anchor="middle" font-size="5.3" fill="#333" stroke="#555" stroke-width="0.15" transform="translate(401.73 401.6) rotate(-45)">30</text>
<text x="0" y="1.82" text-anchor="middle" font-size="5.3" fill="#333" stroke="#555" stroke-width="0.15" transform="translate(421.51 401.6) rotate(-45)">35</text>
<text x="0" y="1.82" text-anchor="middle" font-size="5.3" fill="#333" stroke="#555" stroke-width="0.15" transform="translate(441.29 401.6) rotate(-45)">40</text>
<text x="0" y="1.82" text-anchor="middle" font-size="5.3" fill="#333" stroke="#555" stroke-width="0.15" transform="translate(461.07 401.6) rotate(-45)">45</text>
<text x="0" y="1.82" text-anchor="middle" font-size="5.3" fill="#333" stroke="#555" stroke-width="0.15" transform="translate(480.85 401.6) rotate(-45)">50</text>
<text x="0" y="1.82" text-anchor="middle" font-size="5.3" fill="#333" stroke="#555" stroke-width="0.15" transform="translate(500.63 401.6) rotate(-45)">55</text>
<text x="0" y="1.82" text-anchor="middle" font-size="5.3" fill="#333" stroke="#555" stroke-width="0.15" transform="translate(520.41 401.6) rotate(-45)">60</text>
<text x="0" y="1.82" text-anchor="middle" font-size="5.3" fill="#333" stroke="#555" stroke-width="0.15" transform="translate(540.19 401.6) rotate(-45)">65</text>
<text x="0" y="1.82" text-anchor="middle" font-size="5.3" fill="#333" stroke="#555" stroke-width="0.15" transform="translate(559.97 401.6) rotate(-45)">70</text>
<text x="0" y="1.82" text-anchor="middle" font-size="5.3" fill="#333" stroke="#555" stroke-width="0.15" transform="translate(579.75 401.6) rotate(-45)">75</text>
<text x="0" y="1.82" text-anchor="middle" font-size="5.3" fill="#333" stroke="#555" stroke-width="0.15" transform="translate(599.53 401.6) rotate(-45)">80</text>
<text x="0" y="1.82" text-anchor="middle" font-size="5.3" fill="#333" stroke="#555" stroke-width="0.15" transform="translate(619.31 401.6) rotate(-45)">85</text>
<text x="0" y="1.82" text-anchor="middle" font-size="5.3" fill="#333" stroke="#555" stroke-width="0.15" transform="translate(639.09 401.6) rotate(-45)">90</text>
<text x="0" y="1.82" text-anchor="middle" font-size="5.3" fill="#333" stroke="#555" stroke-width="0.15" transform="translate(658.87 401.6) rotate(-45)">95</text>
<text x="530.9" y="411.8" text-anchor="middle" font-size="6.8" font-weight="bold" fill="#000">Age</text>
<text x="0" y="0" text-anchor="middle" font-size="6.9" font-weight="bold" fill="#000" transform="translate(363 302.6) rotate(-90)">Percent Change per Year</text>
</svg></body></html>
